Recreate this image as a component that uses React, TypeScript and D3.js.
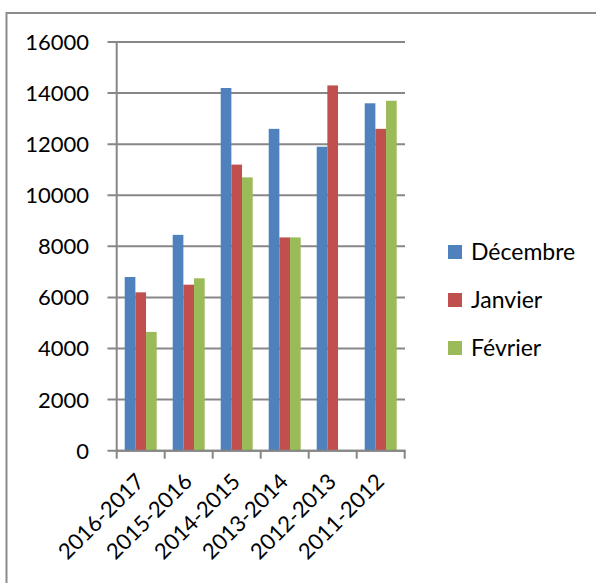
import React from "react";
import * as d3 from "d3";

const categories = ["2016-2017", "2015-2016", "2014-2015", "2013-2014", "2012-2013", "2011-2012"];
const seriesNames = ["Décembre", "Janvier", "Février"];
const decembre = [6800, 8450, 14200, 12600, 11900, 13600];
const janvier = [6200, 6500, 11200, 8350, 14300, 12600];
const fevrier = [4650, 6750, 10700, 8350, 0, 13700];
const yTicks = [0, 2000, 4000, 6000, 8000, 10000, 12000, 14000, 16000];
const colors = ["#4F81BD", "#C0504D", "#9BBB59"];

const W = 596;
const H = 583;
const FONT = "Lato, 'Open Sans', sans-serif";

export default function App() {
  const series = [decembre, janvier, fevrier];
  const x0 = d3.scaleBand<string>().domain(categories).range([116.7, 404.7]).paddingInner(0).paddingOuter(0);
  const bw = x0.bandwidth();
  const barW = bw / 4.5;
  const y = d3.scaleLinear().domain([0, 16000]).range([450.7, 42]);
  const grid = "#878787";

  return (
    <svg width={W} height={H} style={{ position: "absolute", left: 0, top: 0, background: "#fff" }} fontFamily={FONT}>
      <rect x={6.5} y={13} width={700} height={700} fill="#fff" stroke="#8c8c8c" strokeWidth={2} />
      {/* gridlines & y ticks */}
      {yTicks.map((t) => (
        <g key={t}>
          <line x1={107.5} x2={405} y1={y(t)} y2={y(t)} stroke={grid} strokeWidth={2} />
          <text x={89} y={y(t)} dy="0.36em" textAnchor="end" fontSize={22} fill="#000">
            {t}
          </text>
        </g>
      ))}
      {/* bars */}
      {categories.map((c, i) => (
        <g key={c}>
          {series.map((s, j) => (
            <rect
              key={j}
              x={(x0(c) as number) + 0.75 * barW + j * barW}
              y={y(s[i])}
              width={barW}
              height={y(0) - y(s[i])}
              fill={colors[j]}
            />
          ))}
        </g>
      ))}
      {/* y axis */}
      <line x1={116.7} x2={116.7} y1={42} y2={451.7} stroke={grid} strokeWidth={2} />
      {/* x axis */}
      <line x1={116.7} x2={405.7} y1={y(0)} y2={y(0)} stroke={grid} strokeWidth={2} />
      {[...categories.map((c) => x0(c) as number), 404.7].map((xv, i) => (
        <line key={i} x1={xv} x2={xv} y1={y(0)} y2={y(0) + 8} stroke={grid} strokeWidth={2} />
      ))}
      {categories.map((c) => {
        const cx = (x0(c) as number) + bw / 2 - 6;
        const cy = 472;
        return (
          <text
            key={c}
            x={cx}
            y={cy}
            textAnchor="end"
            dy="0.7em"
            fontSize={22}
            transform={`rotate(-45 ${cx} ${cy})`}
            fill="#000"
          >
            {c}
          </text>
        );
      })}
      {/* legend */}
      {seriesNames.map((n, j) => (
        <g key={n} transform={`translate(448, ${252 + j * 48})`}>
          <rect x={0} y={-7} width={14} height={14} fill={colors[j]} />
          <text x={23} y={0} dy="0.36em" fontSize={23} fill="#000">
            {n}
          </text>
        </g>
      ))}
    </svg>
  );
}
